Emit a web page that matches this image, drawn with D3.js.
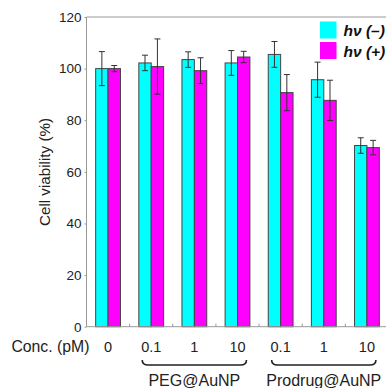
<!DOCTYPE html>
<html><head><meta charset="utf-8">
<script src="https://cdn.jsdelivr.net/npm/d3@7"></script>
<style>body{margin:0;background:#fff;} svg{display:block;font-family:Arial,"Liberation Sans",sans-serif;}</style>
</head><body>
<svg id="c" width="386" height="388"></svg>
<script>
const concLabels = ["0", "0.1", "1", "10", "0.1", "1", "10"];
const darkMeans = [100, 102.2, 103.5, 102.2, 105.5, 95.7, 70.2];
const darkErr   = [6.6, 3.0, 3.0, 4.8, 5.0, 6.8, 3.0];
const lightMeans = [100, 100.8, 99.2, 104.5, 90.7, 87.7, 69.4];
const lightErr   = [1.2, 10.7, 5.0, 2.2, 7.0, 7.8, 2.8];
const yTicks = [0, 20, 40, 60, 80, 100, 120];
const groupNames = [{name: "PEG@AuNP", from: 1, to: 3}, {name: "Prodrug@AuNP", from: 4, to: 6}];
const legendLabels = ["h\u03BD (\u2013)", "h\u03BD (+)"];

const svg = d3.select("#c");
const mLeft = 86.5, mRight = 388.5, mTop = 17, mBottom = 326.7;
const x = d3.scaleBand().domain(d3.range(concLabels.length)).range([mLeft, mRight]).padding(0);
const y = d3.scaleLinear().domain([0, 120]).range([mBottom, mTop]);
const bw = 12.4;
const axisColor = "#999";

// frame top and left
svg.append("line").attr("x1", mLeft).attr("x2", 386).attr("y1", mTop).attr("y2", mTop).attr("stroke", axisColor);
svg.append("line").attr("x1", mLeft).attr("x2", mLeft).attr("y1", mTop).attr("y2", mBottom).attr("stroke", axisColor);

const series = [
  {means: darkMeans, err: darkErr, color: "#00FFFF", off: -bw},
  {means: lightMeans, err: lightErr, color: "#FF00FF", off: 0}
];
series.forEach(s => {
  const g = svg.append("g");
  s.means.forEach((m, i) => {
    const cx = x(i) + x.bandwidth() / 2;
    g.append("rect").attr("x", cx + s.off).attr("width", bw)
      .attr("y", y(m)).attr("height", y(0) - y(m))
      .attr("fill", s.color).attr("stroke", "#444").attr("stroke-width", 1);
  });
});
series.forEach(s => {
  const g = svg.append("g").attr("stroke", "#333").attr("stroke-width", 1);
  s.means.forEach((m, i) => {
    const cx = x(i) + x.bandwidth() / 2 + s.off + bw / 2;
    const y1 = y(m + s.err[i]), y2 = y(m - s.err[i]);
    g.append("line").attr("x1", cx).attr("x2", cx).attr("y1", y1).attr("y2", y2);
    g.append("line").attr("x1", cx - 3).attr("x2", cx + 3).attr("y1", y1).attr("y2", y1);
    g.append("line").attr("x1", cx - 3).attr("x2", cx + 3).attr("y1", y2).attr("y2", y2);
  });
});

// bottom axis
svg.append("line").attr("x1", mLeft).attr("x2", 386).attr("y1", mBottom).attr("y2", mBottom).attr("stroke", axisColor);
d3.range(1, concLabels.length).forEach(i => {
  svg.append("line").attr("x1", x(i)).attr("x2", x(i)).attr("y1", mBottom).attr("y2", mBottom - 3).attr("stroke", axisColor);
});

// y axis
const yAxis = d3.axisLeft(y).tickValues(yTicks).tickSize(2).tickPadding(3);
const ya = svg.append("g").attr("transform", `translate(${mLeft},0)`).call(yAxis);
ya.select(".domain").remove();
ya.selectAll(".tick line").attr("stroke", axisColor);
ya.selectAll(".tick text").attr("font-size", 13.5).attr("fill", "#222").attr("font-family", "Arial, 'Liberation Sans', sans-serif");

// x labels
svg.append("g").selectAll("text").data(concLabels).join("text")
  .attr("x", (d, i) => x(i) + x.bandwidth() / 2).attr("y", 352)
  .attr("text-anchor", "middle").attr("font-size", 14.5).attr("fill", "#222").text(d => d);
svg.append("text").attr("x", 89.5).attr("y", 352).attr("text-anchor", "end")
  .attr("font-size", 15.8).attr("fill", "#222").text("Conc. (pM)");

// y title
svg.append("text").attr("transform", "translate(50,172) rotate(-90)")
  .attr("text-anchor", "middle").attr("font-size", 15.2).attr("fill", "#222").text("Cell viability (%)");

// braces and group labels
groupNames.forEach(gn => {
  const x1 = x(gn.from) + x.bandwidth() / 2 - 9, x2 = x(gn.to) + x.bandwidth() / 2 + 9;
  svg.append("path")
    .attr("d", `M${x1},360 Q${x1},365 ${x1 + 6},365 L${x2 - 6},365 Q${x2},365 ${x2},360`)
    .attr("fill", "none").attr("stroke", "#222").attr("stroke-width", 1.6);
  svg.append("text").attr("x", (x(gn.from) + x(gn.to) + x.bandwidth()) / 2).attr("y", 386)
    .attr("text-anchor", "middle").attr("font-size", 16).attr("fill", "#222").text(gn.name);
});

// legend
series.forEach((s, i) => {
  svg.append("rect").attr("x", 320).attr("y", 21.5 + i * 20.5).attr("width", 16.5).attr("height", 17)
    .attr("fill", s.color);
  svg.append("text").attr("x", 343.5).attr("y", 36 + i * 20.5)
    .attr("font-size", 15.5).attr("font-weight", "bold").attr("font-style", "italic")
    .attr("fill", "#111").text(legendLabels[i]);
});
</script>
</body></html>
